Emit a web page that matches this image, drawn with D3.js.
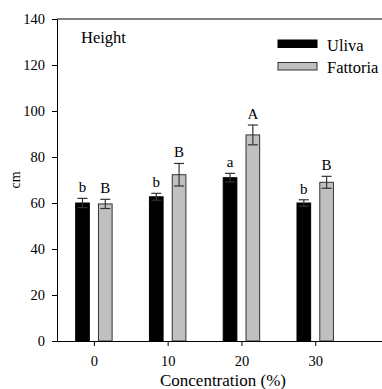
<!DOCTYPE html>
<html>
<head>
<meta charset="utf-8">
<script src="https://cdn.jsdelivr.net/npm/d3@7"></script>
<style>
  body { margin: 0; background: #fff; }
  svg text { font-family: 'Liberation Serif', 'DejaVu Serif', serif; }
</style>
</head>
<body>
<div id="chart"></div>
<script>
// data
const concentrations = [0, 10, 20, 30];
const seriesNames = ["Uliva", "Fattoria"];
const ulivaMeans = [60, 62.7, 71, 60];
const ulivaErr = [2, 1.5, 1.9, 1.4];
const fattoriaMeans = [59.6, 72.3, 89.6, 69];
const fattoriaErr = [2, 4.9, 4.3, 2.6];
const ulivaLetters = ["b", "b", "a", "b"];
const fattoriaLetters = ["B", "B", "A", "B"];
const yTicks = [0, 20, 40, 60, 80, 100, 120, 140];

const width = 382, height = 389;
const margin = { top: 19, left: 57, bottom: 48 };
const serif = "'Liberation Serif', 'DejaVu Serif', serif";

const svg = d3.select("#chart").append("svg")
    .attr("width", width)
    .attr("height", height)
    .attr("font-family", serif);

const x = d3.scaleLinear().domain([-5, 40]).range([margin.left, 389]);
const y = d3.scaleLinear().domain([0, 140]).range([height - margin.bottom, margin.top]);

const series = [
    { name: seriesNames[0], means: ulivaMeans, err: ulivaErr, letters: ulivaLetters, fill: "#000", side: -1 },
    { name: seriesNames[1], means: fattoriaMeans, err: fattoriaErr, letters: fattoriaLetters, fill: "#c0c0c0", side: 1 }
];

// bars sit either side of the tick, small gap in the middle
const gap = 0.62, barW = 1.85;
const barLeft = (c, side) => side < 0 ? x(c - gap - barW) : x(c + gap);
const pxW = x(barW) - x(0);

// frame: top line
svg.append("line")
    .attr("x1", x.range()[0]).attr("x2", x.range()[1])
    .attr("y1", y(140)).attr("y2", y(140))
    .attr("stroke", "#000");

series.forEach(s => {
    const g = svg.append("g");
    const rows = concentrations.map((c, i) => ({ c, v: s.means[i], e: s.err[i], l: s.letters[i] }));

    g.selectAll("rect").data(rows).enter().append("rect")
        .attr("x", d => barLeft(d.c, s.side))
        .attr("y", d => y(d.v))
        .attr("width", pxW)
        .attr("height", d => y(0) - y(d.v))
        .attr("fill", s.fill)
        .attr("stroke", s.side < 0 ? "#000" : "#333")
        .attr("stroke-width", 1);

    const cx = d => barLeft(d.c, s.side) + pxW / 2;
    const eb = g.selectAll("g.err").data(rows).enter().append("g").attr("class", "err")
        .attr("stroke", "#333").attr("stroke-width", 1.2);
    eb.append("line")
        .attr("x1", cx).attr("x2", cx)
        .attr("y1", d => y(d.v + d.e)).attr("y2", d => y(d.v - d.e));
    eb.append("line")
        .attr("x1", d => cx(d) - 5).attr("x2", d => cx(d) + 5)
        .attr("y1", d => y(d.v + d.e)).attr("y2", d => y(d.v + d.e));
    eb.append("line")
        .attr("x1", d => cx(d) - 5).attr("x2", d => cx(d) + 5)
        .attr("y1", d => y(d.v - d.e)).attr("y2", d => y(d.v - d.e));

    g.selectAll("text").data(rows).enter().append("text")
        .attr("x", cx)
        .attr("y", d => y(d.v + d.e) - 6)
        .attr("text-anchor", "middle")
        .attr("font-size", 15)
        .text(d => d.l);
});

// axes
const yAxis = svg.append("g")
    .attr("transform", `translate(${margin.left},0)`)
    .call(d3.axisLeft(y).tickValues(yTicks).tickSize(5).tickPadding(7).tickSizeOuter(0));
const xAxis = svg.append("g")
    .attr("transform", `translate(0,${y(0)})`)
    .call(d3.axisBottom(x).tickValues(concentrations).tickSize(5).tickPadding(10).tickSizeOuter(0));
[yAxis, xAxis].forEach(a => {
    a.attr("font-family", serif).attr("font-size", 14.5);
    a.selectAll("path, line").attr("stroke", "#000");
    a.selectAll("text").attr("fill", "#000");
});

svg.append("text")
    .attr("x", (x.range()[0] + x.range()[1]) / 2)
    .attr("y", 386)
    .attr("text-anchor", "middle")
    .attr("font-size", 17)
    .text("Concentration (%)");

svg.append("text")
    .attr("transform", `translate(20,${(y(0) + y(140)) / 2}) rotate(-90)`)
    .attr("text-anchor", "middle")
    .attr("font-size", 14)
    .text("cm");

svg.append("text")
    .attr("x", 81).attr("y", 43)
    .attr("font-size", 16.5)
    .text("Height");

// legend
const legend = svg.append("g").attr("transform", "translate(278,40)");
series.forEach((s, i) => {
    const row = legend.append("g").attr("transform", `translate(0,${i * 22.5})`);
    row.append("rect")
        .attr("width", 39).attr("height", 7.5)
        .attr("fill", s.fill)
        .attr("stroke", s.side < 0 ? "#000" : "#333");
    row.append("text")
        .attr("x", 49).attr("y", 10.5)
        .attr("font-size", 16.5)
        .text(s.name);
});
</script>
</body>
</html>
